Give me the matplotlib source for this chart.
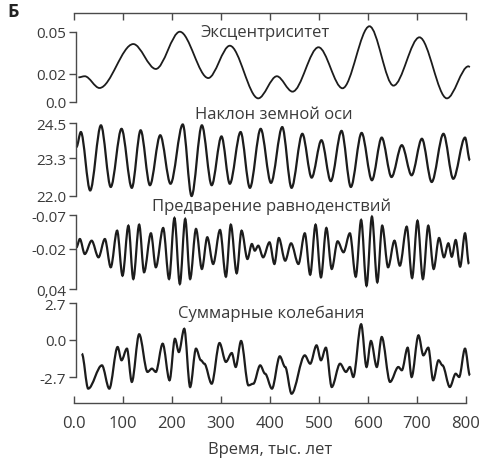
import matplotlib.pyplot as plt
from matplotlib.path import Path
from matplotlib.patches import PathPatch

plt.rcParams['font.family'] = ['Open Sans', 'DejaVu Sans']

# время, тыс. лет (экстремумы)
ecc_t = [9, 22, 52, 121, 167, 216, 274, 318, 376, 414, 446, 499, 548, 603,
         652, 705, 761, 805, 808]
ecc_v = [0.0176, 0.0184, 0.0100, 0.0414, 0.0236, 0.0502, 0.0171, 0.0402,
         0.0026, 0.0184, 0.0074, 0.0391, 0.0098, 0.0541, 0.0117, 0.0462,
         0.0026, 0.0255, 0.0250]

obl_t = [5, 14, 33, 55, 75, 97, 118, 136, 155, 176, 197, 222, 240, 261, 281,
         301, 318, 340, 359, 381, 402, 425, 444, 466, 485, 505, 524, 546, 565,
         587, 608, 628, 648, 669, 689, 710, 730, 754, 774, 798, 808]
obl_v = [23.68, 24.19, 22.19, 24.42, 22.31, 24.30, 22.28, 24.25, 22.37, 24.08,
         22.42, 24.45, 22.00, 24.42, 22.37, 24.04, 22.42, 24.19, 22.28, 24.30,
         22.45, 24.36, 22.28, 24.13, 22.63, 23.91, 22.51, 24.23, 22.31, 24.16,
         22.54, 24.00, 22.65, 23.74, 22.71, 23.96, 22.48, 24.13, 22.59, 24.00,
         23.22]

pre_t = [5, 12, 22, 36, 50, 63, 75, 88, 99, 111, 121, 133, 143, 157, 167, 182,
         194, 205, 216, 227, 237, 249, 261, 272, 284, 298, 310, 320, 332, 342,
         354, 363, 369, 376, 386, 399, 409, 418, 431, 443, 458, 471, 482, 493,
         504, 515, 526, 538, 550, 563, 575, 586, 597, 608, 619, 629, 641, 654,
         665, 679, 690, 701, 712, 723, 734, 745, 755, 764, 771, 779, 788, 798,
         806]
pre_v = [-0.022, -0.0343, -0.0120, -0.0318, -0.0071, -0.0343, 0.0077, -0.0467,
         0.0202, -0.0541, 0.0251, -0.0556, 0.0151, -0.0428, 0.0077, -0.0507,
         0.0251, -0.0655, 0.0325, -0.0641, 0.0251, -0.0492, 0.0102, -0.0369,
         0.0028, -0.0477, 0.0217, -0.0556, 0.0166, -0.0467, -0.0046, -0.0269,
         -0.0170, -0.0244, -0.0071, -0.0294, 0.0028, -0.0358, -0.0021, -0.0279,
         0.0028, -0.0428, 0.0187, -0.0556, 0.0226, -0.0507, 0.0102, -0.0309,
         -0.0146, -0.0428, 0.0217, -0.0626, 0.0351, -0.0675, 0.0300, -0.0541,
         0.0077, -0.0318, 0.0053, -0.0526, 0.0236, -0.0615, 0.0251, -0.0541,
         0.0102, -0.0358, -0.0071, -0.0279, -0.0080, -0.0328, 0.0068, -0.0428,
         0.0028]

sum_t = [16, 29, 57, 72, 89, 97, 108, 118, 133, 150, 159, 167, 181, 195, 206,
         214, 225, 237, 249, 259, 266, 281, 297, 310, 322, 330, 341, 356, 366,
         380, 390, 404, 420, 431, 444, 471, 482, 495, 504, 514, 526, 543, 555,
         563, 570, 586, 597, 606, 618, 628, 645, 662, 669, 681, 689, 703, 713,
         723, 733, 744, 752, 767, 779, 786, 798, 808]
sum_v = [-1.00, -3.55, -1.85, -3.55, -0.51, -1.48, -0.63, -3.06, 0.42, -2.33,
         -2.09, -2.33, -0.27, -2.94, 0.09, -0.88, 0.82, -3.43, -0.63, -1.48,
         -1.73, -3.19, -0.22, -1.60, -0.95, -1.97, -0.07, -3.31, -3.19, -1.85,
         -2.46, -3.55, -1.19, -1.97, -3.92, -1.12, -1.73, -0.39, -1.48, -0.56,
         -3.43, -1.73, -2.33, -1.97, -2.70, 1.15, -1.97, -0.07, -1.97, 0.22,
         -3.06, -1.97, -2.21, -0.56, -2.70, 0.34, -1.12, -0.56, -2.94, -1.48,
         -1.85, -3.43, -2.46, -2.70, -0.63, -2.58]

x_ticks = [0, 100, 200, 300, 400, 500, 600, 700, 800]
x_labels = ['0.0', '100', '200', '300', '400', '500', '600', '700', '800']

panels = [
    # (заголовок, t, v, ylim, тики, подписи, верх px, низ px, заголовок x, y px, толщина)
    ('Эксцентриситет', ecc_t, ecc_v, (0.0, 0.05), [0.0, 0.02, 0.05],
     ['0.0', '0.02', '0.05'], 33, 103, 265, 33, 1.3),
    ('Наклон земной оси', obl_t, obl_v, (22.0, 24.5), [22.0, 23.3, 24.5],
     ['22.0', '23.3', '24.5'], 124, 197, 274, 115, 1.6),
    ('Предварение равноденствий', pre_t, pre_v, (0.04, -0.07),
     [0.04, -0.02, -0.07], ['0,04', '-0.02', '-0.07'], 216, 290, 272, 207, 1.6),
    ('Суммарные колебания', sum_t, sum_v, (-2.7, 2.7), [-2.7, 0.0, 2.7],
     ['-2.7', '0.0', '2.7'], 304, 378, 271, 314, 1.6),
]

W, H = 485, 460
line_color = '#1c1c1c'
axis_color = '#4a4a4a'
text_color = '#3a3a3a'


def smooth_path(t, v):
    # кривая Безье с горизонтальными касательными в экстремумах
    verts = [(t[0], v[0])]
    codes = [Path.MOVETO]
    for i in range(1, len(t)):
        dx = (t[i] - t[i - 1]) / 3
        verts += [(t[i - 1] + dx, v[i - 1]), (t[i] - dx, v[i]), (t[i], v[i])]
        codes += [Path.CURVE4] * 3
    return Path(verts, codes)


fig = plt.figure(figsize=(W / 100, H / 100), dpi=100)
left = 74 / W
width = 392 / W

# общая рамка: верхняя и нижняя оси времени
frame = fig.add_axes([left, 1 - 403.5 / H, width, (403.5 - 14) / H])
frame.set_xlim(0, 800)
frame.set_ylim(0, 1)
frame.patch.set_alpha(0)
for s in ['left', 'right']:
    frame.spines[s].set_visible(False)
for s in ['top', 'bottom']:
    frame.spines[s].set_color(axis_color)
    frame.spines[s].set_linewidth(1.0)
frame.set_yticks([])
frame.set_xticks(x_ticks)
frame.set_xticklabels(x_labels, fontsize=12, color=text_color)
frame.tick_params(axis='x', direction='in', top=True, bottom=True, length=5,
                  width=1.0, color=axis_color, pad=9)
frame.set_xlabel('Время, тыс. лет', fontsize=12, color=text_color, labelpad=7)

for title, t, v, ylim, ticks, labels, top_px, bot_px, tx, ty, lw in panels:
    ax = fig.add_axes([left, 1 - bot_px / H, width, (bot_px - top_px) / H])
    ax.set_xlim(0, 800)
    ax.set_ylim(*ylim)
    ax.patch.set_alpha(0)
    for s in ['top', 'right', 'bottom']:
        ax.spines[s].set_visible(False)
    ax.spines['left'].set_position(('data', 4))
    ax.spines['left'].set_color(axis_color)
    ax.spines['left'].set_linewidth(1.0)
    ax.set_xticks([])
    ax.set_yticks(ticks)
    ax.set_yticklabels(labels, fontsize=11, color=text_color)
    ax.tick_params(axis='y', direction='out', length=5, width=1.0,
                   color=axis_color, pad=2)
    patch = PathPatch(smooth_path(t, v), fill=False, edgecolor=line_color,
                      linewidth=lw, clip_on=False)
    ax.add_patch(patch)
    fig.text(tx / W, 1 - ty / H, title, ha='center', va='center',
             fontsize=12, color=text_color)

fig.text(7 / W, 1 - 17 / H, 'Б', ha='left', va='baseline', fontsize=13,
         fontweight='bold', color='#222222')

fig.savefig('out.png', dpi=100)
